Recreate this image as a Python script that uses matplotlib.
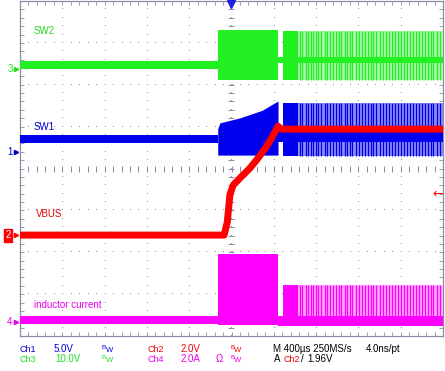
import numpy as np
import matplotlib
matplotlib.use("Agg")
import matplotlib.pyplot as plt

# ---- scope settings: 400 us/div, trigger in the centre -------------------
T_LEFT, T_RIGHT = -2.0, 2.0                     # ms
DIV_MS = 0.4
VOLT_PER_DIV = {"ch1": 5.0, "ch2": 2.0, "ch3": 10.0, "ch4": 2.0}
GND_DIV = {"ch1": 4.39, "ch2": 2.41, "ch3": 6.37, "ch4": 0.33}   # marker height, div
TRIG_LEVEL = 1.96                                # V on ch2

# ---- switching phases (ms) -----------------------------------------------
SOFT_START = -0.13       # converter starts switching
SOFT_END = 0.44          # continuous switching ends (VBUS reached)
BURST_START = 0.49       # pulse-skipping starts
BURST_SOLID_END = 0.63

PULSE_TIMES = [0.65, 0.67, 0.70, 0.72, 0.75, 0.77, 0.80, 0.82, 0.85, 0.88,
               0.90, 0.93, 0.96, 0.99, 1.02, 1.04, 1.07, 1.09, 1.12, 1.14,
               1.18, 1.21, 1.23, 1.26, 1.29, 1.32, 1.34, 1.37, 1.40, 1.43,
               1.46, 1.49, 1.52, 1.55, 1.57, 1.60, 1.63, 1.66, 1.69, 1.72,
               1.74, 1.77, 1.80, 1.83, 1.86, 1.89, 1.91, 1.94, 1.97]

# SW2 (ch3), volts: (low, high) envelopes
SW2_IDLE = (0.0, 2.0)
SW2_RUN = (-2.6, 9.3)
SW2_BURST = (-2.6, 9.1)
SW2_BASE = (1.5, 2.9)

# SW1 (ch1), volts
SW1_IDLE = (1.1, 2.0)
SW1_RAMP_T = [-0.13, -0.11, 0.08, 0.29, 0.41, 0.44]
SW1_RAMP_TOP = [2.8, 3.5, 4.1, 5.0, 5.9, 6.1]
SW1_RAMP_BOT = -0.35
SW1_BURST = (-0.4, 5.9)
SW1_BASE = (1.2, 2.4)

# VBUS (ch2), volts
VBUS_T = [-2.0, -0.07, -0.04, -0.015, 0.015, 0.08, 0.175, 0.25, 0.32,
          0.385, 0.44, 0.47, 2.0]
VBUS_V = [0.0, 0.0, 0.62, 1.92, 2.38, 2.72, 3.2, 3.67, 4.15, 4.68, 5.2,
          5.06, 5.06]

# inductor current (ch4), amps
IL_IDLE = (-0.1, 0.28)
IL_RUN = (-0.14, 3.25)
IL_BURST = (-0.14, 1.77)
IL_BASE = (-0.2, 0.28)

GREEN, GREEN_LT = "#22f022", "#a8f8a8"
BLUE, BLUE_LT = "#0000ee", "#8c8cf2"
RED = "#ff0000"
MAGENTA, MAGENTA_LT = "#ff00ff", "#ffa6ff"
GRID = "#8c8ca4"


def to_div(ch, v):
    return GND_DIV[ch] + np.asarray(v, dtype=float) / VOLT_PER_DIV[ch]


def band(ax, ch, t0, t1, lohi, color, z=3):
    lo, hi = to_div(ch, lohi)
    ax.fill_between([t0, t1], [lo, lo], [hi, hi], color=color, lw=0, zorder=z)


def switching(ax, ch, idle, run, burst, base, color, light, ramp=None):
    band(ax, ch, T_LEFT, SOFT_START, idle, color)
    if ramp is None:
        band(ax, ch, SOFT_START, SOFT_END, run, color)
    else:
        t, top, bot = ramp
        ax.fill_between(t, to_div(ch, [bot] * len(t)), to_div(ch, top),
                        color=color, lw=0, zorder=3)
    band(ax, ch, SOFT_END, BURST_START, base, color)
    band(ax, ch, BURST_START, T_RIGHT, burst, light)
    band(ax, ch, BURST_START, BURST_SOLID_END, burst, color)
    lo, hi = to_div(ch, burst)
    ax.vlines(PULSE_TIMES, lo, hi, color=color, lw=0.9, zorder=3)
    band(ax, ch, BURST_START, T_RIGHT, base, color)


fig = plt.figure(figsize=(4.45, 3.71), dpi=100)
ax = fig.add_axes([20 / 445, 35 / 371, 423 / 445, 335 / 371])
ax.set_xlim(T_LEFT, T_RIGHT)
ax.set_ylim(0, 8)

# ---- graticule -----------------------------------------------------------
sub_x = np.arange(T_LEFT, T_RIGHT + 1e-9, DIV_MS / 5)
sub_y = np.arange(0, 8 + 1e-9, 0.2)
for gx in np.arange(T_LEFT + DIV_MS, T_RIGHT - 1e-9, DIV_MS):
    ax.plot([gx] * len(sub_y), sub_y, ",", color=GRID, zorder=1)
for gy in range(1, 8):
    ax.plot(sub_x, [gy] * len(sub_x), ",", color=GRID, zorder=1)
ax.plot([0] * len(sub_y), sub_y, "_", ms=4, mew=0.7, color=GRID, zorder=1)
ax.plot(sub_x, [4] * len(sub_x), "|", ms=4, mew=0.7, color=GRID, zorder=1)
ax.set_xticks(sub_x)
ax.set_yticks(sub_y)
ax.tick_params(which="both", direction="in", length=3, width=0.6, color=GRID,
               top=True, right=True, labelbottom=False, labelleft=False)
for sp in ax.spines.values():
    sp.set_color(GRID)
    sp.set_linewidth(0.9)

# ---- traces --------------------------------------------------------------
switching(ax, "ch3", SW2_IDLE, SW2_RUN, SW2_BURST, SW2_BASE, GREEN, GREEN_LT)
switching(ax, "ch1", SW1_IDLE, None, SW1_BURST, SW1_BASE, BLUE, BLUE_LT,
          ramp=(SW1_RAMP_T, SW1_RAMP_TOP, SW1_RAMP_BOT))
switching(ax, "ch4", IL_IDLE, IL_RUN, IL_BURST, IL_BASE, MAGENTA, MAGENTA_LT)
ax.plot(VBUS_T, to_div("ch2", VBUS_V), color=RED, lw=5, zorder=5,
        solid_joinstyle="round")

# ---- annotations ---------------------------------------------------------
fs = 7
ff = "Liberation Sans"
ax.text(-1.87, 7.28, "SW2", color="#22dd22", fontsize=fs, family=ff, va="center")
ax.text(-1.87, 4.99, "SW1", color="#0000cc", fontsize=fs, family=ff, va="center")
ax.text(-1.85, 2.91, "VBUS", color="#dd0000", fontsize=fs, family=ff, va="center")
ax.text(-1.87, 0.74, "inductor current", color="#ee00ee", fontsize=fs,
        family=ff, va="center")

for ch, lab, col in [("ch3", "3", "#22dd22"), ("ch1", "1", "#0000cc"),
                     ("ch4", "4", "#ee00ee")]:
    ax.text(-2.07, GND_DIV[ch], lab, color=col, fontsize=fs, family=ff,
            ha="right", va="center")
    ax.plot([-2.04], [GND_DIV[ch]], ">", ms=3, color=col, clip_on=False)
ax.text(-2.09, GND_DIV["ch2"], "2", color="white", fontsize=fs, family=ff,
        ha="right", va="center",
        bbox=dict(boxstyle="square,pad=0.15", fc=RED, ec=RED))
ax.plot([-2.04], [GND_DIV["ch2"]], ">", ms=3, color=RED, clip_on=False)

ax.plot([0], [7.93], "v", ms=6, color="#2020e0", clip_on=False, zorder=6)
ax.text(1.995, to_div("ch2", TRIG_LEVEL), "\u2190", color=RED, fontsize=9,
        ha="right", va="center", zorder=6)

# ---- readout -------------------------------------------------------------
def ro(xpx, ypx, s, col, size=fs):
    fig.text(xpx / 445, 1 - ypx / 371, s, color=col, fontsize=size, family=ff,
             va="center")


def bw(xpx, ypx, col):
    ro(xpx, ypx - 2, "B", col, size=4.5)
    ro(xpx + 3.5, ypx + 0.5, "W", col, size=5.5)


r1, r2 = 349.5, 359.5
ch_fs = 6.5
ro(19, r1, "Ch1", "#0000dd", ch_fs); ro(54, r1, "5.0V", "#0000dd"); bw(102, r1, "#0000dd")
ro(147, r1, "Ch2", "#ee0000", ch_fs); ro(181, r1, "2.0V", "#ee0000"); bw(230, r1, "#ee0000")
ro(273, r1, "M 400\u00b5s 250MS/s", "black"); ro(366, r1, "4.0ns/pt", "black")
ro(19, r2, "Ch3", "#22dd22", ch_fs); ro(55, r2, "10.0V", "#22dd22"); bw(102, r2, "#22dd22")
ro(147, r2, "Ch4", "#ee00ee", ch_fs); ro(181, r2, "2.0A", "#ee00ee")
ro(216, r2, "\u03a9", "#ee00ee"); bw(230, r2, "#ee00ee")
ro(274, r2, "A", "black"); ro(283, r2, "Ch2", "#ee0000", ch_fs)
ro(301, r2, "/", "black"); ro(307, r2, "1.96V", "black")

fig.savefig("out.png", dpi=100)
